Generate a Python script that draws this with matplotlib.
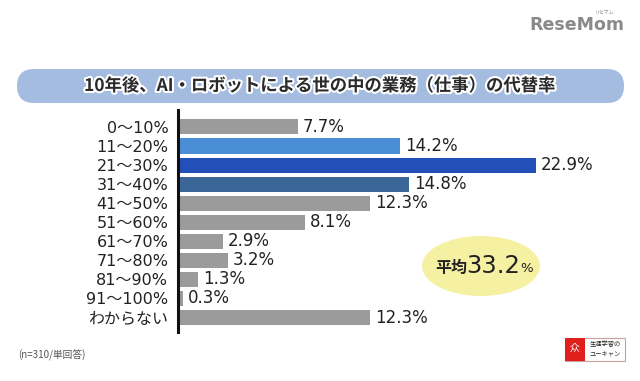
import matplotlib
matplotlib.use('Agg')
import matplotlib.pyplot as plt
import matplotlib.patheffects as pe
from matplotlib.patches import FancyBboxPatch, Ellipse, Rectangle

plt.rcParams['font.family'] = ['DejaVu Sans', 'Noto Sans CJK JP']

categories = ['0〜10%', '11〜20%', '21〜30%', '31〜40%', '41〜50%', '51〜60%',
              '61〜70%', '71〜80%', '81〜90%', '91〜100%', 'わからない']
values = [7.7, 14.2, 22.9, 14.8, 12.3, 8.1, 2.9, 3.2, 1.3, 0.3, 12.3]
bar_colors = ['#9b9b9b', '#4a8fd6', '#2250b8', '#3a6698', '#9b9b9b', '#9b9b9b',
              '#9b9b9b', '#9b9b9b', '#9b9b9b', '#9b9b9b', '#9b9b9b']
title = '10年後、AI・ロボットによる世の中の業務（仕事）の代替率'
average = '33.2'
note = '(n=310/単回答)'

W, H = 640, 381
fig = plt.figure(figsize=(W / 100, H / 100), dpi=100)

# background overlay in pixel coords
bg = fig.add_axes([0, 0, 1, 1], zorder=0)
bg.set_xlim(0, W)
bg.set_ylim(H, 0)
bg.axis('off')

bg.add_patch(FancyBboxPatch((17, 69), 607, 34, boxstyle='round,pad=0,rounding_size=17',
                            fc='#a4bce0', ec='none'))
bg.text(320, 86, title, ha='center', va='center', fontsize=12.5, fontweight='bold',
        color='#2a2a2a', family=['Noto Sans CJK JP'],
        path_effects=[pe.withStroke(linewidth=3, foreground='white')])

bg.add_patch(Ellipse((481, 266), 118, 60, fc='#f6f0a2', ec='none'))
bg.text(435, 268, '平均', ha='left', va='center', fontsize=11.5, fontweight='bold',
        color='#222222', family=['Noto Sans CJK JP'])
bg.text(466, 266, average, ha='left', va='center', fontsize=17.5, color='#222222')
bg.text(520, 269, '%', ha='left', va='center', fontsize=9.5, color='#222222')

# logos / notes
bg.text(577, 25, 'ReseMom', ha='center', va='center', fontsize=12.5, fontweight='bold',
        color='#8a8a8a')
bg.text(605, 12, 'リセマム', ha='center', va='center', fontsize=3.5, color='#8a8a8a',
        family=['Noto Sans CJK JP'])
bg.text(18, 355, note, ha='left', va='center', fontsize=7, color='#555555',
        family=['Noto Sans CJK JP'])
bg.add_patch(Rectangle((565, 338), 60, 23, fc='white', ec='#c8a0a0', lw=0.8))
bg.add_patch(Rectangle((565, 338), 20, 23, fc='#e0201c', ec='none'))
bg.text(575, 347, '众', ha='center', va='center', fontsize=7, color='white',
        family=['Noto Sans CJK JP'])
bg.text(605, 344, '生涯学習の', ha='center', va='center', fontsize=4.5, color='#222222',
        family=['Noto Sans CJK JP'])
bg.text(605, 354, 'ユーキャン', ha='center', va='center', fontsize=4.5, color='#222222',
        family=['Noto Sans CJK JP'])

# main bar chart
ax = fig.add_axes([178 / W, (H - 332) / H, 391 / W, 222 / H], zorder=1)
ax.patch.set_alpha(0)
pos = list(range(len(categories)))
ax.barh(pos, values, height=0.79, color=bar_colors)
for p, v in zip(pos, values):
    ax.text(v + 0.3, p, f'{v}%', ha='left', va='center', fontsize=12, color='#222222')
ax.set_xlim(0, 25)
ax.set_ylim(10.76, -0.89)
ax.set_yticks(pos)
ax.set_yticklabels(categories, fontsize=11.5, color='#222222')
ax.tick_params(axis='y', length=0, pad=7)
ax.set_xticks([])
for s in ['top', 'right', 'bottom']:
    ax.spines[s].set_visible(False)
ax.spines['left'].set_linewidth(2.2)
ax.spines['left'].set_color('#111111')

fig.savefig('out.png', dpi=100)
